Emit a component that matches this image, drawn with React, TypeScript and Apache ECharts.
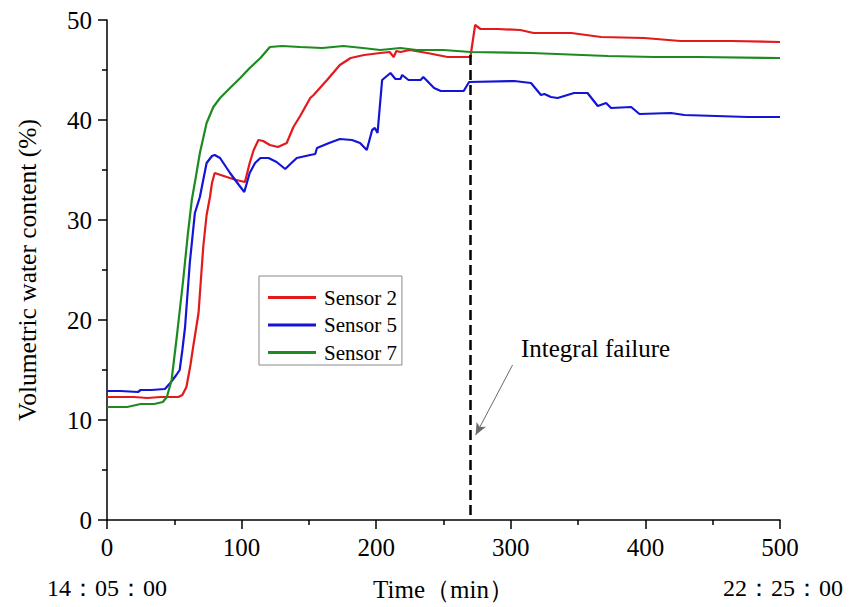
import React, { useEffect, useRef } from "react";
import * as echarts from "echarts";

const sensor2: [number, number][] = [
  [0, 12.3], [20, 12.3], [30, 12.2], [40, 12.3], [53, 12.3], [56, 12.5], [59, 13.3], [62, 15.5],
  [64, 17.3], [68, 20.7], [71.5, 27.3], [74, 30.5], [76.5, 32.3], [78, 33.7], [80, 34.7], [89, 34.3],
  [96, 34.0], [102.5, 33.8], [106, 35.7], [109, 37], [112.5, 38.0], [116, 37.9], [121, 37.5],
  [127, 37.3], [133.5, 37.7], [138.5, 39.3], [143.5, 40.4], [151, 42.2], [153.5, 42.5], [163.5, 44],
  [173, 45.5], [181, 46.2], [191, 46.5], [203, 46.7], [210, 46.8], [213, 46.3], [215, 46.9],
  [218, 46.8], [225, 47.0], [238, 46.7], [253, 46.3], [270, 46.3], [273.5, 49.5], [277.5, 49.1],
  [290, 49.1], [307, 49.0], [317, 48.7], [345, 48.7], [367, 48.3], [399, 48.2], [426, 47.9],
  [464, 47.9], [500, 47.8],
];

const sensor5: [number, number][] = [
  [0, 12.9], [10, 12.9], [23, 12.8], [25, 13.0], [33, 13.0], [43, 13.1], [47, 13.7], [51.5, 14.5],
  [54, 15], [56, 17], [58, 19.3], [61.5, 25.7], [65.3, 30.7], [69, 32.3], [74, 35.7], [78, 36.4],
  [80, 36.5], [84, 36.2], [91.4, 34.7], [98, 33.5], [102, 32.8], [106, 34.7], [110, 35.7],
  [114, 36.2], [120, 36.2], [126, 35.8], [132.4, 35.1], [137, 35.7], [141, 36.2], [151, 36.5],
  [154.7, 36.6], [156, 37.2], [165, 37.7], [173, 38.1], [182, 38.0], [188, 37.7], [193, 37.0],
  [197, 39], [199, 39.2], [201, 38.7], [204.4, 44], [210.6, 44.7], [214.3, 44.1], [218, 44.1],
  [219.3, 44.5], [224, 44], [233, 44], [235, 44.3], [243, 43.2], [248, 42.9], [265, 42.9],
  [269, 43.8], [302.5, 43.9], [315, 43.7], [322.4, 42.5], [325, 42.6], [329.8, 42.3], [334.8, 42.2],
  [347, 42.7], [357, 42.7], [364.6, 41.4], [370.8, 41.7], [374.5, 41.2], [389.4, 41.3],
  [395.6, 40.6], [419, 40.7], [429, 40.5], [476, 40.3], [500, 40.3],
];

const sensor7: [number, number][] = [
  [0, 11.3], [15, 11.3], [25, 11.6], [35, 11.6], [41.5, 11.8], [44.5, 12.3], [48, 14], [52, 18.5],
  [56.6, 24], [60, 28.5], [63, 32], [66, 34.3], [69, 36.7], [74, 39.7], [79, 41.3], [84, 42.2],
  [91.4, 43.2], [99, 44.2], [106, 45.2], [114, 46.2], [121, 47.3], [130, 47.4], [143.5, 47.3],
  [160, 47.2], [175.6, 47.4], [190, 47.2], [203, 47.0], [218, 47.2], [230, 47.0], [250, 47.0],
  [270, 46.8], [315, 46.7], [372, 46.4], [406.7, 46.3], [440, 46.3], [500, 46.2],
];

const seriesNames = ["Sensor 2", "Sensor 5", "Sensor 7"];
const seriesColors = ["#e3191c", "#1414d4", "#1e8a22"];
const failureTime = 270;
const failureTop = 46.5;
const arrowFrom: [number, number] = [301.3, 15.5];
const arrowTo: [number, number] = [273.9, 8.5];
const startLabel = "14：05：00";
const endLabel = "22：25：00";

const FONT = "'Liberation Serif', 'Times New Roman', serif";

export default function App() {
  const ref = useRef<HTMLDivElement>(null);
  useEffect(() => {
    if (!ref.current) return;
    const chart = echarts.init(ref.current, null, { renderer: "svg" });
    const datas = [sensor2, sensor5, sensor7];
    const axisCommon = {
      axisLine: { show: true, lineStyle: { color: "#000", width: 1.5 } },
      axisTick: { show: true, inside: false, length: 9, lineStyle: { color: "#000", width: 1.5 } },
      minorTick: { show: true, splitNumber: 2, length: 5, lineStyle: { color: "#000", width: 1.5 } },
      splitLine: { show: false },
      axisLabel: { color: "#000", fontFamily: FONT, fontSize: 25, margin: 15 },
      nameTextStyle: { color: "#000", fontFamily: FONT, fontSize: 25 },
    };
    chart.setOption({
      animation: false,
      backgroundColor: "#fff",
      grid: { left: 107, right: 82, top: 20, bottom: 87, containLabel: false },
      xAxis: {
        type: "value",
        min: 0,
        max: 500,
        interval: 100,
        name: "Time（min）",
        nameLocation: "middle",
        nameGap: 57,
        ...axisCommon,
      },
      yAxis: {
        type: "value",
        min: 0,
        max: 50,
        interval: 10,
        name: "Volumetric water content (%)",
        nameLocation: "middle",
        nameGap: 67,
        ...axisCommon,
        nameTextStyle: { color: "#000", fontFamily: FONT, fontSize: 25.5 },
      },
      legend: {
        left: 259,
        top: 276,
        orient: "vertical",
        icon: "rect",
        itemWidth: 48,
        itemHeight: 3,
        itemGap: 6.5,
        padding: [11, 5, 2, 9],
        borderColor: "#8a8a8a",
        borderWidth: 1,
        backgroundColor: "#fff",
        textStyle: { color: "#000", fontFamily: FONT, fontSize: 21, lineHeight: 21, padding: [0, 0, 0, 3] },
        data: seriesNames,
      },
      series: datas.map((d, i) => ({
        name: seriesNames[i],
        type: "line",
        data: d,
        color: seriesColors[i],
        showSymbol: false,
        symbol: "none",
        lineStyle: { color: seriesColors[i], width: 2.2 },
        z: 3,
        markLine:
          i === 0
            ? {
                silent: true,
                symbol: ["none", "none"],
                label: { show: false },
                lineStyle: { color: "#000", width: 2.5, type: [10, 5] },
                data: [[{ coord: [failureTime, failureTop] }, { coord: [failureTime, 0] }]],
              }
            : i === 1
            ? {
                silent: true,
                symbol: ["none", "arrow"],
                symbolSize: [8, 12],
                label: { show: false },
                lineStyle: { color: "#6a6a6a", width: 1, type: "solid" },
                data: [[{ coord: arrowFrom }, { coord: arrowTo }]],
              }
            : undefined,
      })),
      graphic: [
        {
          type: "text",
          x: 521,
          y: 348,
          style: { text: "Integral failure", fill: "#000", font: `25px ${FONT}`, textVerticalAlign: "middle" },
        },
        {
          type: "text",
          x: 107,
          y: 588,
          style: { text: startLabel, fill: "#000", font: `24px ${FONT}`, textAlign: "center", textVerticalAlign: "middle" },
        },
        {
          type: "text",
          x: 783,
          y: 588,
          style: { text: endLabel, fill: "#000", font: `24px ${FONT}`, textAlign: "center", textVerticalAlign: "middle" },
        },
      ],
    });
    return () => chart.dispose();
  }, []);
  return <div ref={ref} style={{ width: 862, height: 607, position: "absolute", left: 0, top: 0 }} />;
}
